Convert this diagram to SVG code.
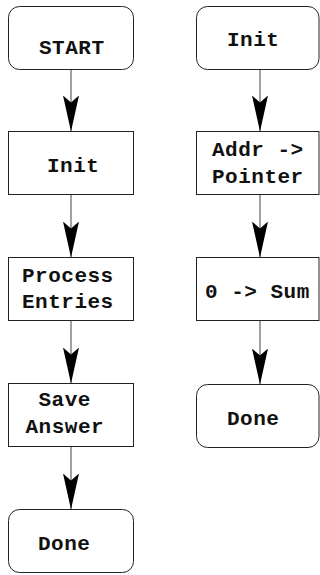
<svg xmlns="http://www.w3.org/2000/svg" width="320" height="575" viewBox="0 0 320 575">
<style>
.box{fill:#fff;stroke:#222;stroke-width:1}
.lbl{font-family:"Liberation Mono","Courier New",monospace;font-weight:bold;font-size:21px;letter-spacing:0.5px;fill:#111}
.conn{stroke:#444;stroke-width:1;fill:none}
</style>
<defs>
<marker id="ah" viewBox="0 0 36 16" markerWidth="36" markerHeight="16" refX="36" refY="8" orient="auto" markerUnits="userSpaceOnUse">
<path d="M0,0 L36,8 L0,16 L7,8 Z" fill="#000"/>
</marker>
</defs>
<rect width="320" height="575" fill="#fff"/>
<g id="connectors">
<line class="conn" x1="71" y1="69.5" x2="71" y2="131.5" marker-end="url(#ah)"/>
<line class="conn" x1="71" y1="194.5" x2="71" y2="257.5" marker-end="url(#ah)"/>
<line class="conn" x1="71" y1="320.5" x2="71" y2="383.5" marker-end="url(#ah)"/>
<line class="conn" x1="71" y1="446.5" x2="71" y2="509.5" marker-end="url(#ah)"/>
<line class="conn" x1="260" y1="69.5" x2="260" y2="131.5" marker-end="url(#ah)"/>
<line class="conn" x1="260" y1="194.5" x2="260" y2="257.5" marker-end="url(#ah)"/>
<line class="conn" x1="260" y1="320.5" x2="260" y2="384.5" marker-end="url(#ah)"/>
</g>
<g id="start">
<rect class="box" x="8.5" y="6.5" width="125" height="63" rx="11"/>
<text class="lbl" x="39" y="54">START</text>
</g>
<g id="init1">
<rect class="box" x="8.5" y="131.5" width="125" height="63"/>
<text class="lbl" x="47" y="172">Init</text>
</g>
<g id="process">
<rect class="box" x="8.5" y="257.5" width="125" height="63"/>
<text class="lbl" x="22" y="282">Process</text>
<text class="lbl" x="22" y="308">Entries</text>
</g>
<g id="save">
<rect class="box" x="8.5" y="383.5" width="125" height="63"/>
<text class="lbl" x="38.5" y="406">Save</text>
<text class="lbl" x="25.5" y="433">Answer</text>
</g>
<g id="done1">
<rect class="box" x="8.5" y="509.5" width="125" height="63" rx="11"/>
<text class="lbl" x="38" y="550">Done</text>
</g>
<g id="init2">
<rect class="box" x="196.5" y="6.5" width="122.5" height="63" rx="11"/>
<text class="lbl" x="227" y="46">Init</text>
</g>
<g id="addr">
<rect class="box" x="196.5" y="131.5" width="122.5" height="63"/>
<text class="lbl" x="212" y="156">Addr -&gt;</text>
<text class="lbl" x="212" y="183">Pointer</text>
</g>
<g id="sum">
<rect class="box" x="196.5" y="257.5" width="122.5" height="63"/>
<text class="lbl" x="205" y="298">0 -&gt; Sum</text>
</g>
<g id="done2">
<rect class="box" x="196.5" y="384.5" width="122.5" height="63" rx="11"/>
<text class="lbl" x="227" y="425">Done</text>
</g>
</svg>
